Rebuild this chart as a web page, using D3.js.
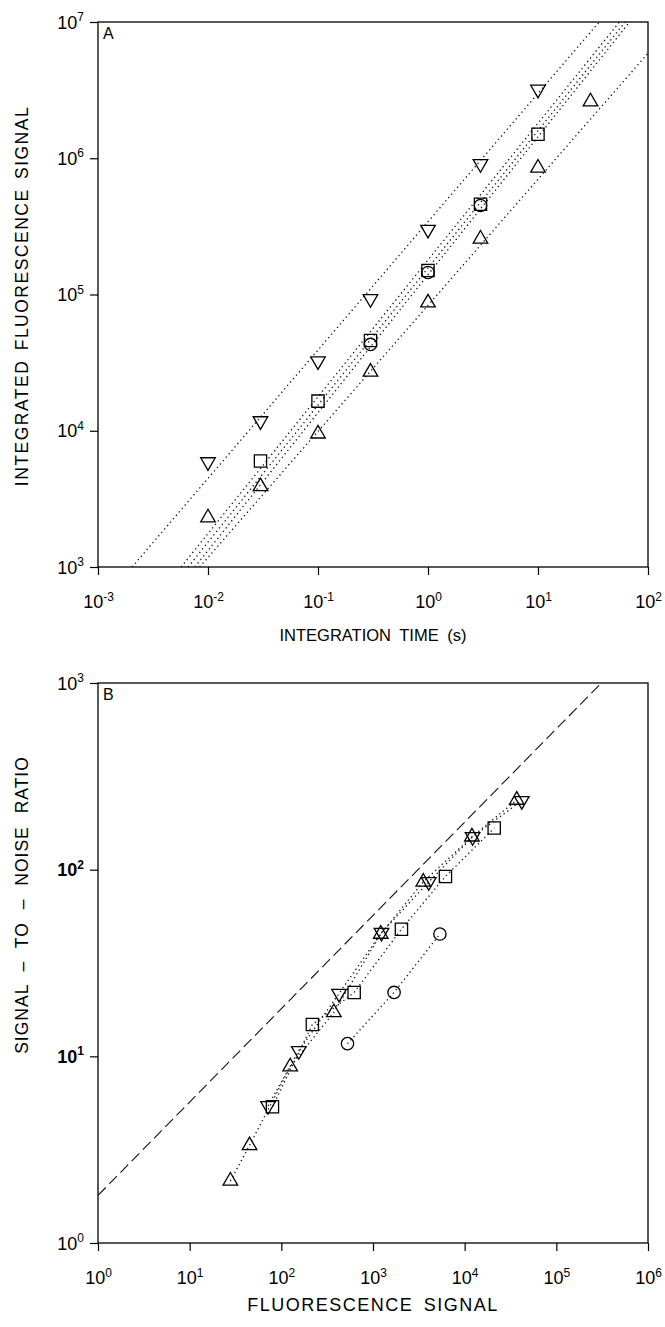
<!DOCTYPE html>
<html>
<head>
<meta charset="utf-8">
<script src="https://cdn.jsdelivr.net/npm/d3@7"></script>
<style>
  body { margin: 0; background: #fff; }
  svg { font-family: "Liberation Sans", Arial, sans-serif; }
</style>
</head>
<body>
<div id="chart"></div>
<script>
// panel A data: integrated signal vs integration time
var timeDown = [0.01, 0.03, 0.1, 0.3, 1, 3, 10];
var signalDown = [5.9e3, 1.18e4, 3.25e4, 9.3e4, 3.0e5, 9.1e5, 3.2e6];
var timeSquare = [0.03, 0.1, 0.3, 1, 3, 10];
var signalSquare = [6.0e3, 1.65e4, 4.6e4, 1.5e5, 4.6e5, 1.5e6];
var timeCircle = [0.3, 1, 3];
var signalCircle = [4.3e4, 1.45e5, 4.5e5];
var timeUp = [0.01, 0.03, 0.1, 0.3, 1, 3, 10, 30];
var signalUp = [2.3e3, 3.9e3, 9.5e3, 2.7e4, 8.7e4, 2.56e5, 8.5e5, 2.6e6];
// fitted lines in panel A, [time, signal] at both ends
var fitLinesA = [
  [[0.00204, 1e3], [36, 1e7]],
  [[0.0057, 1e3], [55, 1e7]],
  [[0.0066, 1e3], [62, 1e7]],
  [[0.0076, 1e3], [68, 1e7]],
  [[0.0084, 1e3], [100, 5.9e6]]
];
var xTicksA = [1e-3, 1e-2, 1e-1, 1e0, 1e1, 1e2];
var yTicksA = [1e3, 1e4, 1e5, 1e6, 1e7];

// panel B data: signal-to-noise vs fluorescence signal
var fluorUp = [27.8, 45, 125, 374, 1215, 3535, 1.2e4, 3.7e4];
var snrUp = [2.15, 3.33, 8.8, 17.2, 45.2, 86, 150, 236];
var fluorDown = [71.6, 155, 426, 1238, 4060, 1.22e4, 4.2e4];
var snrDown = [5.43, 10.7, 21.7, 46, 86, 150, 234];
var fluorSquare = [80, 218, 623, 2043, 6170, 2.1e4];
var snrSquare = [5.37, 14.8, 22, 48, 92, 167];
var fluorCircle = [527, 1698, 5370];
var snrCircle = [11.7, 22, 45.2];
// shot noise limit (dashed)
var limitFluor = [1, 3.1e5];
var limitSnr = [1.8, 1000];
var xTicksB = [1e0, 1e1, 1e2, 1e3, 1e4, 1e5, 1e6];
var yTicksB = [1e0, 1e1, 1e2, 1e3];
var boldTicksB = [1e1, 1e2];

var svg = d3.select("#chart")
  .append("svg")
    .attr("width", 665)
    .attr("height", 1327);

// marker shapes
var symbols = {
  up: d3.symbol().type(d3.symbolTriangle).size(92),
  down: d3.symbol().type(d3.symbolTriangle).size(92),
  square: d3.symbol().type(d3.symbolSquare).size(150),
  circle: d3.symbol().type(d3.symbolCircle).size(120)
};

function pairs(xs, ys) {
  return xs.map(function(d, i) { return [d, ys[i]]; });
}

function powerLabel(text, v) {
  var e = Math.round(Math.log10(v));
  text.append("tspan").text("10");
  text.append("tspan").attr("dy", -7.5).attr("font-size", 12).text(e);
}

function drawPanel(cfg) {
  var width = 550, height = cfg.height;
  var g = svg.append("g")
      .attr("transform", "translate(" + cfg.left + "," + cfg.top + ")");

  var x = d3.scaleLog().domain(cfg.xDomain).range([0, width]);
  var y = d3.scaleLog().domain(cfg.yDomain).range([height, 0]);

  g.append("clipPath").attr("id", cfg.id + "-clip")
    .append("rect").attr("width", width).attr("height", height);

  // x axis
  var xAxis = g.append("g")
      .attr("transform", "translate(0," + height + ")")
      .call(d3.axisBottom(x).tickValues(cfg.xTicks).tickSize(8).tickFormat(""));
  xAxis.select(".domain").remove();
  xAxis.selectAll("line").attr("stroke", "#000").attr("stroke-width", 1.2);
  xAxis.selectAll(".tick").append("text")
      .attr("y", 41)
      .attr("fill", "#000")
      .attr("font-size", 18)
      .attr("text-anchor", "middle")
      .each(function(d) { powerLabel(d3.select(this), d); });

  // y axis
  var yAxis = g.append("g")
      .call(d3.axisLeft(y).tickValues(cfg.yTicks).tickSize(8).tickFormat(""));
  yAxis.select(".domain").remove();
  yAxis.selectAll("line").attr("stroke", "#000").attr("stroke-width", 1.2);
  yAxis.selectAll(".tick").append("text")
      .attr("x", -14)
      .attr("dy", 6)
      .attr("fill", "#000")
      .attr("font-size", 18)
      .attr("font-weight", function(d) { return cfg.boldTicks.indexOf(d) >= 0 ? "bold" : null; })
      .attr("text-anchor", "end")
      .each(function(d) { powerLabel(d3.select(this), d); });

  // frame
  g.append("rect")
      .attr("width", width).attr("height", height)
      .attr("fill", "none").attr("stroke", "#000").attr("stroke-width", 1.3);

  // panel letter
  g.append("text")
      .attr("x", 5).attr("y", 17)
      .attr("font-size", 16)
      .text(cfg.letter);

  // axis titles
  svg.append("text")
      .attr("x", cfg.left + width / 2)
      .attr("y", cfg.top + height + cfg.xTitleOffset)
      .attr("text-anchor", "middle")
      .attr("font-size", cfg.xTitleSize)
      .attr("letter-spacing", cfg.xTitleSpacing)
      .attr("word-spacing", 4)
      .text(cfg.xTitle);
  svg.append("text")
      .attr("transform", "translate(28," + cfg.yTitleY + ") rotate(-90)")
      .attr("text-anchor", "middle")
      .attr("font-size", 17.5)
      .attr("letter-spacing", cfg.yTitleSpacing)
      .attr("word-spacing", cfg.yWordSpacing)
      .text(cfg.yTitle);

  var plot = g.append("g").attr("clip-path", "url(#" + cfg.id + "-clip)");
  var line = d3.line().x(function(d) { return x(d[0]); }).y(function(d) { return y(d[1]); });

  cfg.lines.forEach(function(l) {
    plot.append("path")
        .attr("d", line(l.points))
        .attr("fill", "none")
        .attr("stroke", "#111")
        .attr("stroke-width", l.dash ? 1.1 : 1.3)
        .attr("stroke-dasharray", l.dash || "1.3,3.2");
  });

  cfg.series.forEach(function(s) {
    g.append("g").selectAll("path")
      .data(s.points)
      .enter().append("path")
        .attr("d", symbols[s.shape])
        .attr("transform", function(d) {
          return "translate(" + x(d[0]) + "," + y(d[1]) + ")" + (s.shape === "down" ? " rotate(180)" : "");
        })
        .attr("fill", "none")
        .attr("stroke", "#000")
        .attr("stroke-width", 1.3);
  });
}

// panel A
drawPanel({
  id: "a", letter: "A",
  left: 98, top: 22, height: 545,
  xDomain: [1e-3, 1e2], yDomain: [1e3, 1e7],
  xTicks: xTicksA, yTicks: yTicksA, boldTicks: [],
  xTitle: "INTEGRATION TIME (s)", xTitleOffset: 74, xTitleSize: 16.5, xTitleSpacing: 0,
  yTitle: "INTEGRATED FLUORESCENCE SIGNAL", yTitleY: 296, yTitleSpacing: 1.5, yWordSpacing: 3,
  lines: fitLinesA.map(function(p) { return { points: p }; }),
  series: [
    { shape: "down", points: pairs(timeDown, signalDown) },
    { shape: "square", points: pairs(timeSquare, signalSquare) },
    { shape: "circle", points: pairs(timeCircle, signalCircle) },
    { shape: "up", points: pairs(timeUp, signalUp) }
  ]
});

// panel B
drawPanel({
  id: "b", letter: "B",
  left: 98, top: 683, height: 560,
  xDomain: [1e0, 1e6], yDomain: [1e0, 1e3],
  xTicks: xTicksB, yTicks: yTicksB, boldTicks: boldTicksB,
  xTitle: "FLUORESCENCE SIGNAL", xTitleOffset: 68, xTitleSize: 18, xTitleSpacing: 1.5,
  yTitle: "SIGNAL \u2013 TO \u2013 NOISE RATIO", yTitleY: 905, yTitleSpacing: 1, yWordSpacing: 7,
  lines: [
    { points: pairs(limitFluor, limitSnr), dash: "11,5" },
    { points: pairs(fluorUp, snrUp) },
    { points: pairs(fluorDown, snrDown) },
    { points: pairs(fluorSquare, snrSquare) },
    { points: pairs(fluorCircle, snrCircle) }
  ],
  series: [
    { shape: "up", points: pairs(fluorUp, snrUp) },
    { shape: "down", points: pairs(fluorDown, snrDown) },
    { shape: "square", points: pairs(fluorSquare, snrSquare) },
    { shape: "circle", points: pairs(fluorCircle, snrCircle) }
  ]
});
</script>
</body>
</html>
